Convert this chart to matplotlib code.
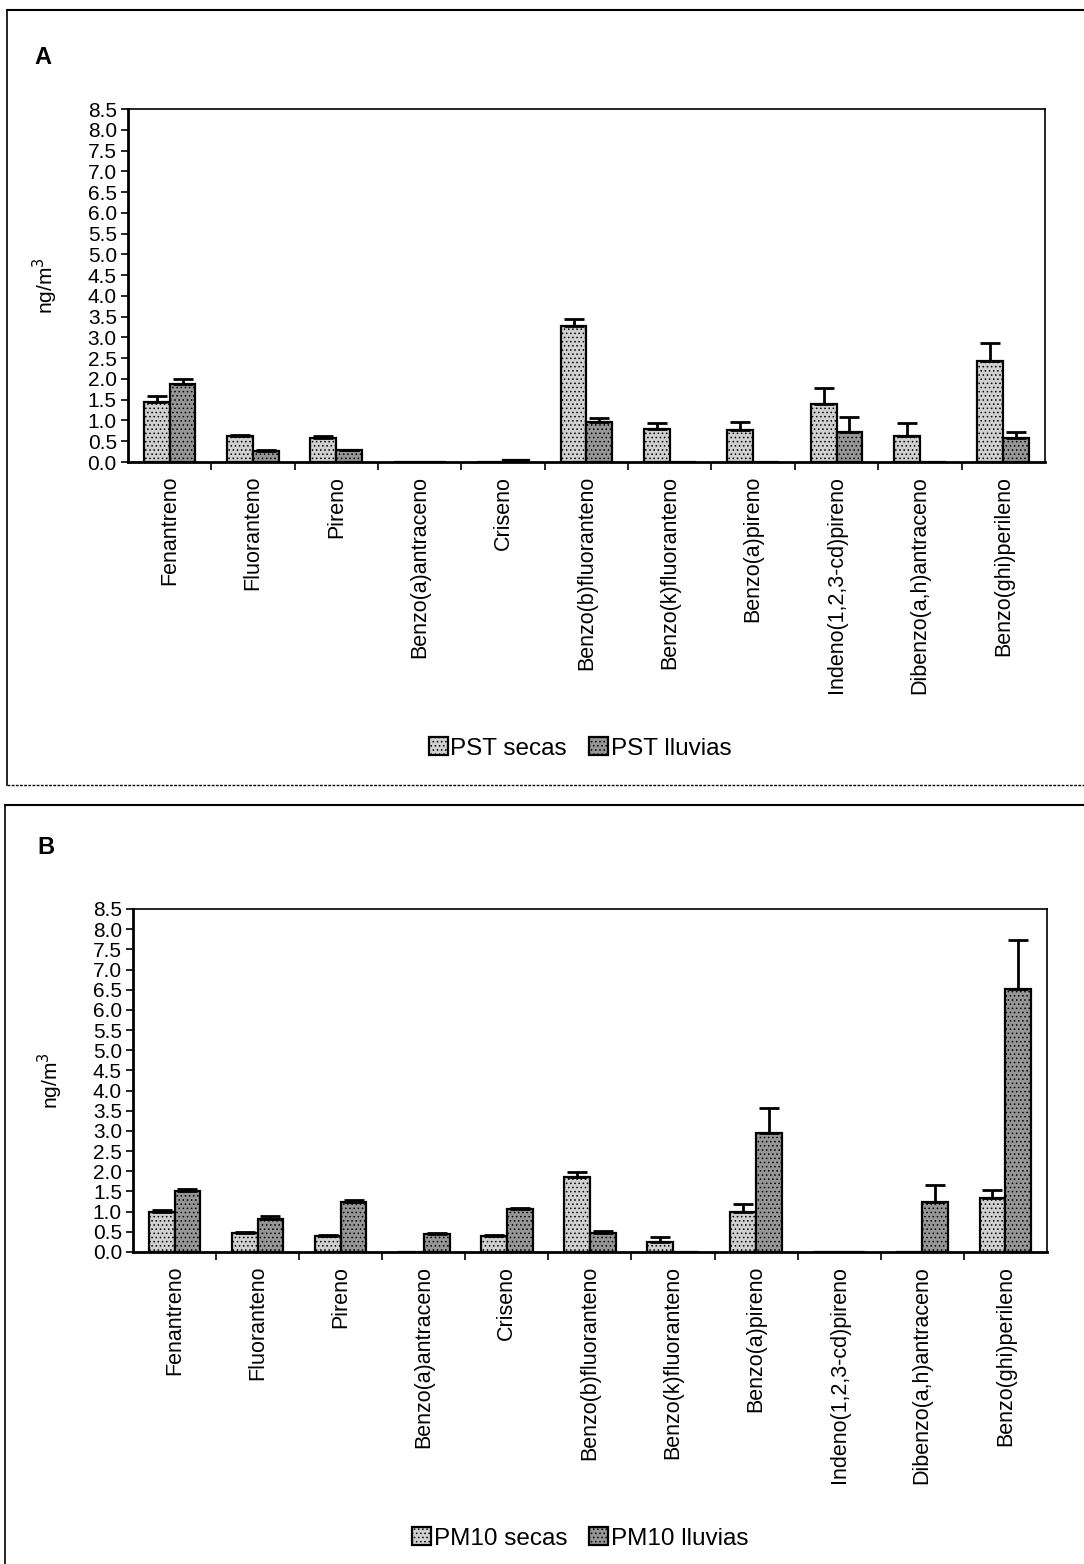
import matplotlib
matplotlib.use("Agg")
import matplotlib.pyplot as plt
import numpy as np
from matplotlib.lines import Line2D

plt.rcParams['font.family'] = ['Liberation Sans', 'DejaVu Sans']
plt.rcParams['hatch.linewidth'] = 0.6

compuestos = ['Fenantreno', 'Fluoranteno', 'Pireno', 'Benzo(a)antraceno', 'Criseno',
              'Benzo(b)fluoranteno', 'Benzo(k)fluoranteno', 'Benzo(a)pireno',
              'Indeno(1,2,3-cd)pireno', 'Dibenzo(a,h)antraceno', 'Benzo(ghi)perileno']

# Panel A - PST
pst_secas = [1.45, 0.62, 0.59, 0.0, 0.0, 3.28, 0.80, 0.76, 1.40, 0.63, 2.44]
pst_secas_err = [0.13, 0.03, 0.03, 0.0, 0.0, 0.16, 0.15, 0.20, 0.37, 0.32, 0.42]
pst_lluvias = [1.87, 0.27, 0.28, 0.0, 0.06, 0.97, 0.0, 0.0, 0.72, 0.0, 0.57]
pst_lluvias_err = [0.14, 0.02, 0.02, 0.0, 0.0, 0.08, 0.0, 0.0, 0.36, 0.0, 0.16]

# Panel B - PM10
pm10_secas = [1.0, 0.46, 0.40, 0.0, 0.40, 1.86, 0.24, 1.0, 0.0, 0.0, 1.33]
pm10_secas_err = [0.03, 0.03, 0.03, 0.0, 0.03, 0.12, 0.13, 0.20, 0.0, 0.0, 0.21]
pm10_lluvias = [1.50, 0.82, 1.24, 0.45, 1.06, 0.48, 0.0, 2.96, 0.0, 1.25, 6.52]
pm10_lluvias_err = [0.07, 0.06, 0.05, 0.02, 0.04, 0.04, 0.0, 0.62, 0.0, 0.40, 1.22]

yticks = np.arange(0, 8.51, 0.5)

fig = plt.figure(figsize=(10.84, 15.64), dpi=100)


def draw_panel(rect, secas, secas_err, lluvias, lluvias_err, names, letter, letter_pos):
    ax = fig.add_axes(rect)
    x = np.arange(len(compuestos))
    w = 0.31
    ax.bar(x - w / 2, secas, w, color='#d0d0d0', edgecolor='black', hatch='....',
           linewidth=1.6, label=names[0], zorder=2)
    ax.bar(x + w / 2, lluvias, w, color='#969696', edgecolor='black', hatch='....',
           linewidth=1.6, label=names[1], zorder=2)
    # only the upper half of the error bars is visible
    ax.errorbar(x - w / 2, secas, yerr=[np.zeros(len(secas)), secas_err], fmt='none',
                ecolor='black', elinewidth=2, capsize=7, capthick=2, zorder=3)
    ax.errorbar(x + w / 2, lluvias, yerr=[np.zeros(len(lluvias)), lluvias_err], fmt='none',
                ecolor='black', elinewidth=2, capsize=7, capthick=2, zorder=3)

    ax.set_xlim(-0.5, len(compuestos) - 0.5)
    ax.set_ylim(0, 8.5)
    ax.set_yticks(yticks)
    ax.set_yticklabels(['%.1f' % v for v in yticks], fontsize=15)
    ax.set_xticks(x)
    ax.set_xticklabels(compuestos, rotation=90, fontsize=15.5)
    ax.tick_params(axis='x', length=0, pad=10)
    ax.set_xticks(np.arange(0.5, len(compuestos) - 1, 1), minor=True)
    ax.tick_params(axis='x', which='minor', length=6, width=1.2, direction='out')
    ax.tick_params(axis='y', length=5, width=1.2, direction='out', pad=3)
    for s in ax.spines.values():
        s.set_linewidth(1.2)
    ax.spines['left'].set_linewidth(2)
    ax.spines['bottom'].set_linewidth(2)
    ax.set_ylabel('ng/m$^3$', fontsize=15, labelpad=20)

    handles, labels = ax.get_legend_handles_labels()
    fig.legend(handles, labels, loc='center', bbox_to_anchor=(0.535, rect[1] - 0.183),
               ncol=2, frameon=False, fontsize=17.5, handlelength=0.8, handleheight=0.8,
               handletextpad=0.1, columnspacing=0.9)
    fig.text(letter_pos[0], letter_pos[1], letter, fontsize=17, fontweight='bold',
             ha='center', va='center')
    return ax


draw_panel([0.118, 0.7046, 0.846, 0.2257], pst_secas, pst_secas_err, pst_lluvias,
           pst_lluvias_err, ['PST secas', 'PST lluvias'], 'A', (0.040, 0.9635))
draw_panel([0.1227, 0.1995, 0.843, 0.2193], pm10_secas, pm10_secas_err, pm10_lluvias,
           pm10_lluvias_err, ['PM10 secas', 'PM10 lluvias'], 'B', (0.042, 0.458))

# outer frames around each panel
for (x0, y0, x1, y1) in [(0.0065, 0.498, 1.0, 0.9936), (0.005, 0.0, 1.0, 0.4853)]:
    fig.add_artist(Line2D([x0, x1], [y1, y1], color='black', lw=1.5, transform=fig.transFigure))
    fig.add_artist(Line2D([x0, x0], [y0, y1], color='black', lw=1.2, transform=fig.transFigure))
    if y0 > 0:
        fig.add_artist(Line2D([x0, x1], [y0, y0], color='black', lw=1.0, ls=(0, (2, 1)),
                              transform=fig.transFigure))

fig.savefig('out.png', dpi=100)
